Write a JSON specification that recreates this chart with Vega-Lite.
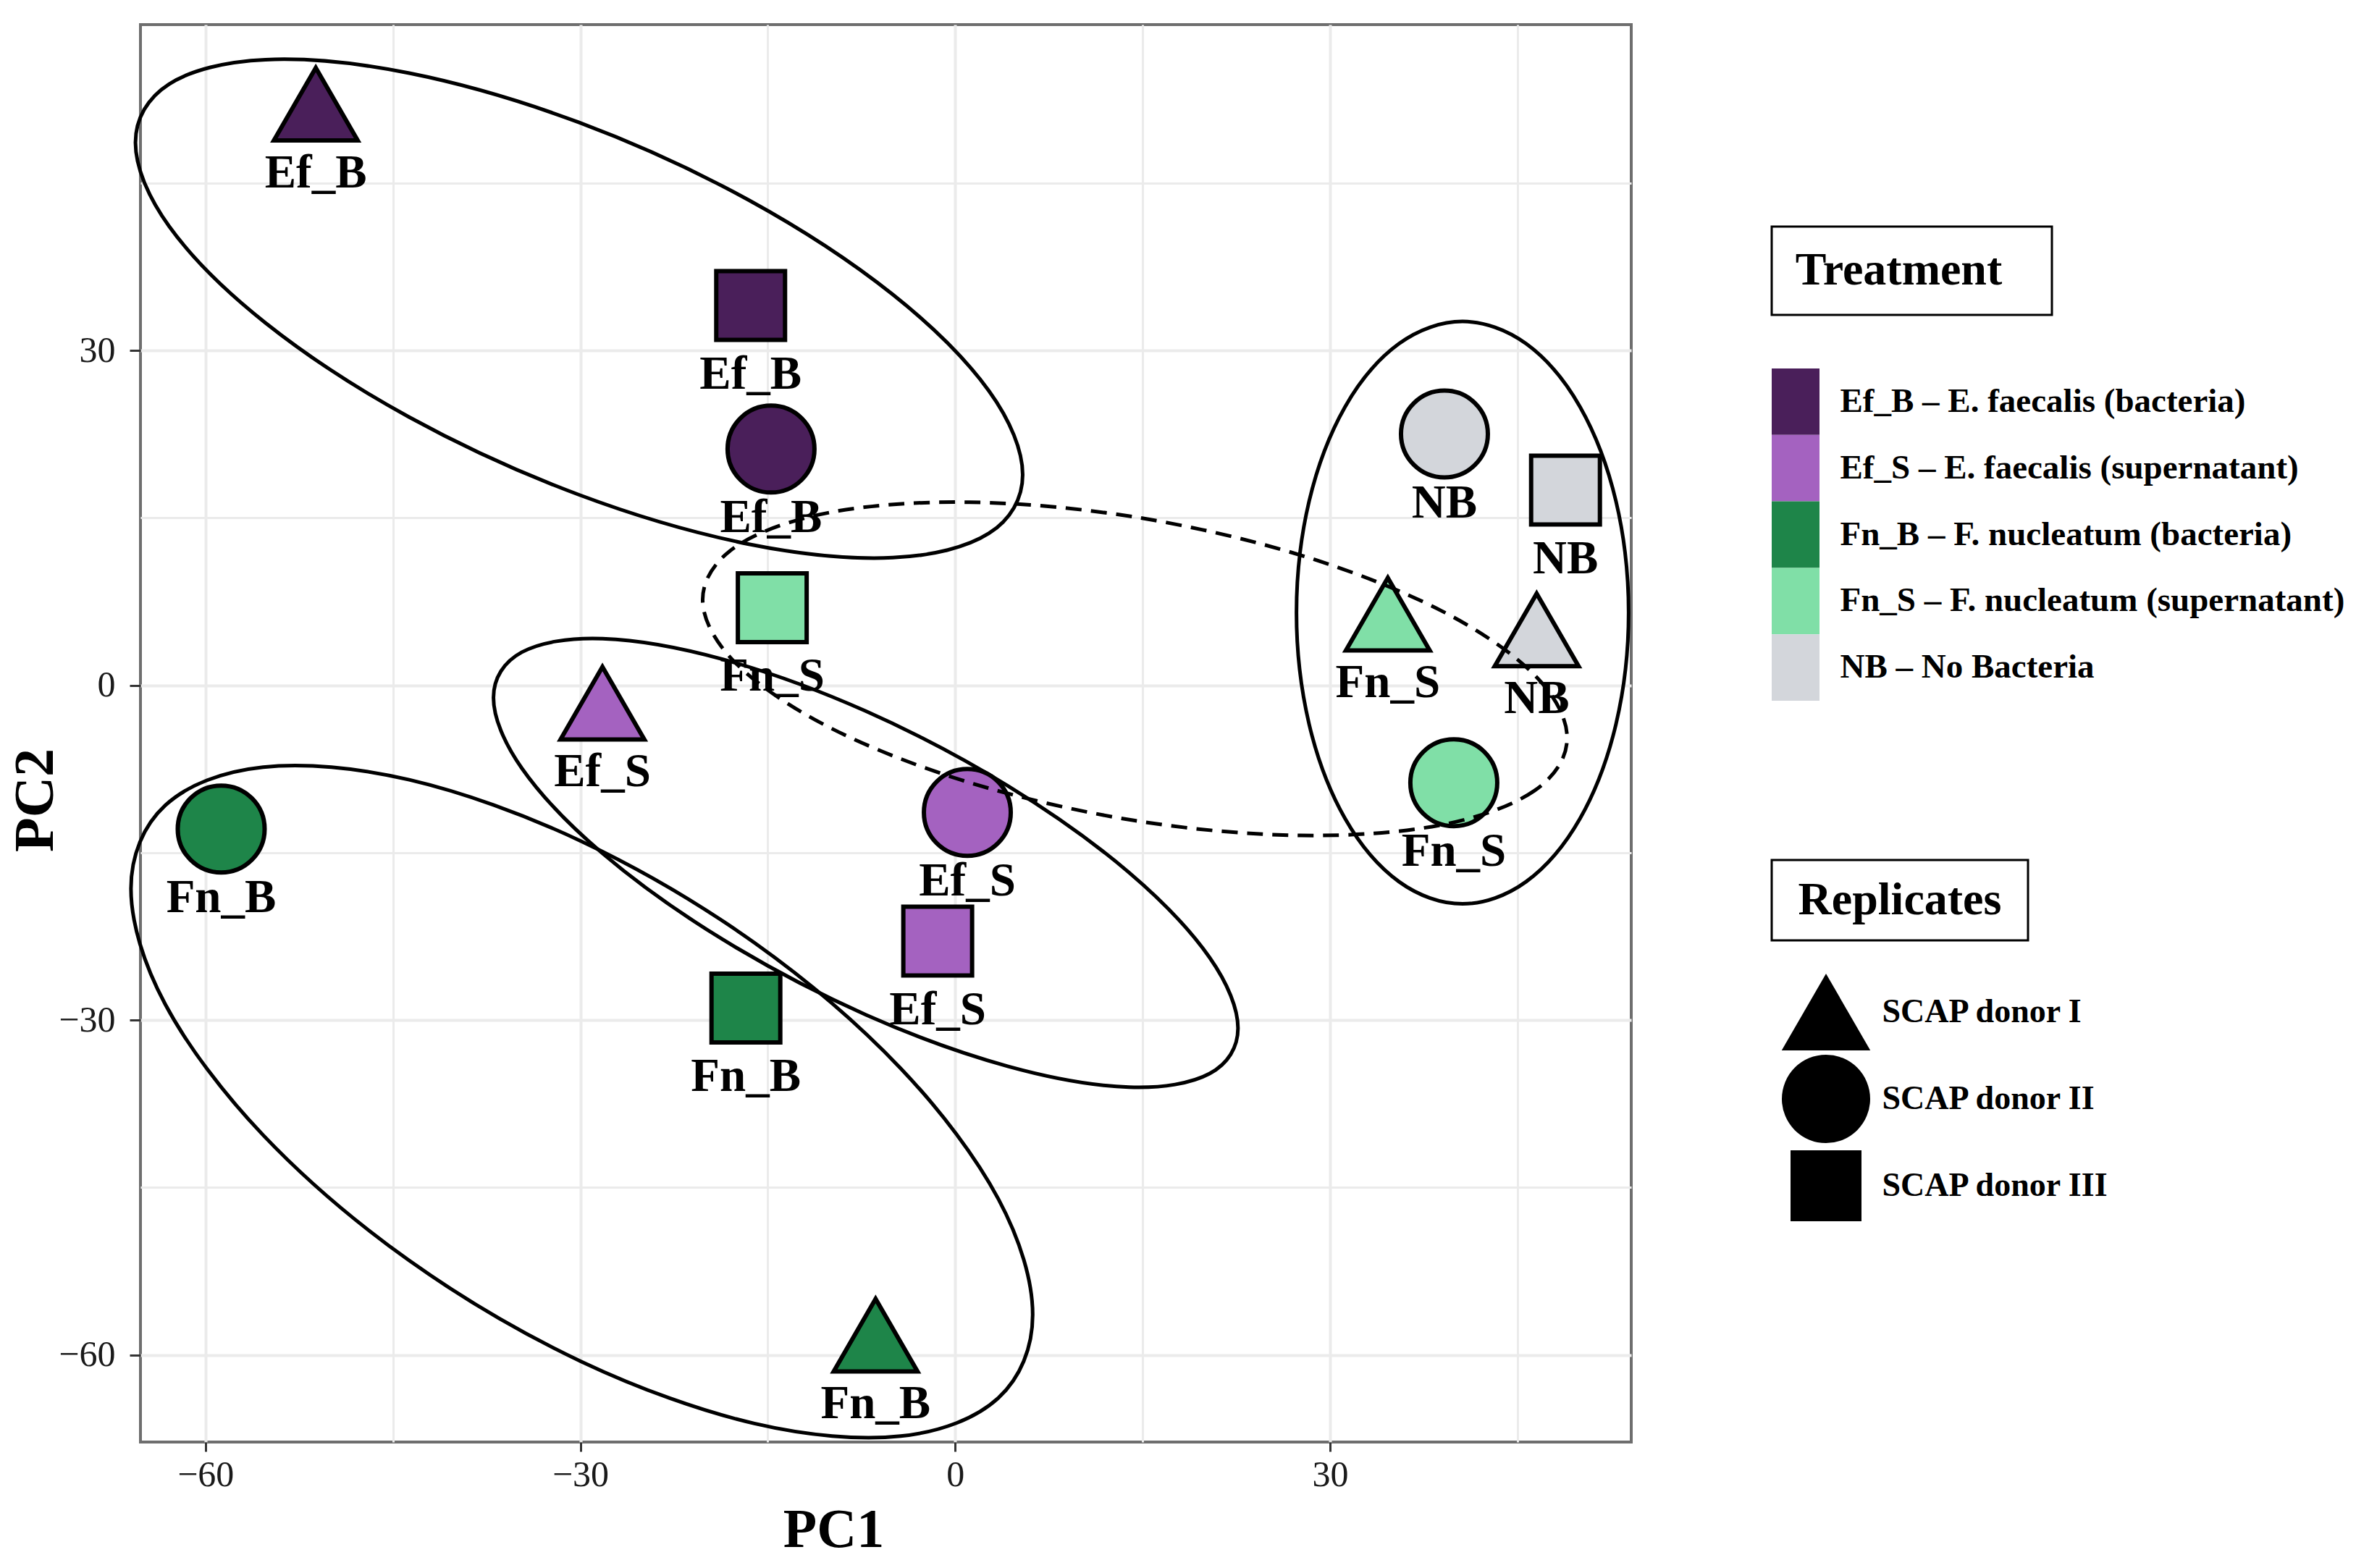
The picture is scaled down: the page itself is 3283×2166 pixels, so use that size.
{
  "$schema": "https://vega.github.io/schema/vega-lite/v6.json",
  "background": "white",
  "padding": {"left": 8, "top": 32, "right": 5, "bottom": 5},
  "config": {"font": "Liberation Serif", "view": {"stroke": null}},
  "datasets": {
    "points": [
      {"treatment": "Ef_B", "replicate": "SCAP donor I", "PC1": -51.17, "PC2": 52.08},
      {"treatment": "Ef_B", "replicate": "SCAP donor II", "PC1": -14.74, "PC2": 21.17},
      {"treatment": "Ef_B", "replicate": "SCAP donor III", "PC1": -16.37, "PC2": 34.04},
      {"treatment": "Ef_S", "replicate": "SCAP donor I", "PC1": -28.23, "PC2": -1.6},
      {"treatment": "Ef_S", "replicate": "SCAP donor II", "PC1": 0.97, "PC2": -11.39},
      {"treatment": "Ef_S", "replicate": "SCAP donor III", "PC1": -1.4, "PC2": -22.92},
      {"treatment": "Fn_B", "replicate": "SCAP donor I", "PC1": -6.37, "PC2": -58.23},
      {"treatment": "Fn_B", "replicate": "SCAP donor II", "PC1": -58.74, "PC2": -12.87},
      {"treatment": "Fn_B", "replicate": "SCAP donor III", "PC1": -16.75, "PC2": -28.91},
      {"treatment": "Fn_S", "replicate": "SCAP donor I", "PC1": 34.62, "PC2": 6.38},
      {"treatment": "Fn_S", "replicate": "SCAP donor II", "PC1": 39.9, "PC2": -8.73},
      {"treatment": "Fn_S", "replicate": "SCAP donor III", "PC1": -14.64, "PC2": 6.96},
      {"treatment": "NB", "replicate": "SCAP donor I", "PC1": 46.53, "PC2": 4.97},
      {"treatment": "NB", "replicate": "SCAP donor II", "PC1": 39.15, "PC2": 22.52},
      {"treatment": "NB", "replicate": "SCAP donor III", "PC1": 48.84, "PC2": 17.5}
    ],
    "ellipses": [
      {"group": "Ef_B", "i": 0, "PC1": 5.4, "PC2": 18.87},
      {"group": "Ef_B", "i": 1, "PC1": 2.7, "PC2": 13.62},
      {"group": "Ef_B", "i": 2, "PC1": -5.0, "PC2": 11.44},
      {"group": "Ef_B", "i": 3, "PC1": -16.51, "PC2": 12.65},
      {"group": "Ef_B", "i": 4, "PC1": -30.1, "PC2": 17.07},
      {"group": "Ef_B", "i": 5, "PC1": -43.69, "PC2": 24.03},
      {"group": "Ef_B", "i": 6, "PC1": -55.2, "PC2": 32.48},
      {"group": "Ef_B", "i": 7, "PC1": -62.9, "PC2": 41.12},
      {"group": "Ef_B", "i": 8, "PC1": -65.6, "PC2": 48.63},
      {"group": "Ef_B", "i": 9, "PC1": -62.9, "PC2": 53.88},
      {"group": "Ef_B", "i": 10, "PC1": -55.2, "PC2": 56.06},
      {"group": "Ef_B", "i": 11, "PC1": -43.69, "PC2": 54.85},
      {"group": "Ef_B", "i": 12, "PC1": -30.1, "PC2": 50.43},
      {"group": "Ef_B", "i": 13, "PC1": -16.51, "PC2": 43.47},
      {"group": "Ef_B", "i": 14, "PC1": -5.0, "PC2": 35.02},
      {"group": "Ef_B", "i": 15, "PC1": 2.7, "PC2": 26.38},
      {"group": "Ef_S", "i": 0, "PC1": 22.63, "PC2": -30.72},
      {"group": "Ef_S", "i": 1, "PC1": 20.36, "PC2": -34.79},
      {"group": "Ef_S", "i": 2, "PC1": 13.9, "PC2": -36.0},
      {"group": "Ef_S", "i": 3, "PC1": 4.24, "PC2": -34.14},
      {"group": "Ef_S", "i": 4, "PC1": -7.16, "PC2": -29.51},
      {"group": "Ef_S", "i": 5, "PC1": -18.56, "PC2": -22.8},
      {"group": "Ef_S", "i": 6, "PC1": -28.22, "PC2": -15.06},
      {"group": "Ef_S", "i": 7, "PC1": -34.68, "PC2": -7.43},
      {"group": "Ef_S", "i": 8, "PC1": -36.95, "PC2": -1.1},
      {"group": "Ef_S", "i": 9, "PC1": -34.68, "PC2": 2.97},
      {"group": "Ef_S", "i": 10, "PC1": -28.22, "PC2": 4.18},
      {"group": "Ef_S", "i": 11, "PC1": -18.56, "PC2": 2.32},
      {"group": "Ef_S", "i": 12, "PC1": -7.16, "PC2": -2.31},
      {"group": "Ef_S", "i": 13, "PC1": 4.24, "PC2": -9.02},
      {"group": "Ef_S", "i": 14, "PC1": 13.9, "PC2": -16.76},
      {"group": "Ef_S", "i": 15, "PC1": 20.36, "PC2": -24.39},
      {"group": "Fn_B", "i": 0, "PC1": 6.2, "PC2": -56.38},
      {"group": "Fn_B", "i": 1, "PC1": 3.45, "PC2": -63.85},
      {"group": "Fn_B", "i": 2, "PC1": -4.37, "PC2": -67.27},
      {"group": "Fn_B", "i": 3, "PC1": -16.07, "PC2": -66.14},
      {"group": "Fn_B", "i": 4, "PC1": -29.88, "PC2": -60.61},
      {"group": "Fn_B", "i": 5, "PC1": -43.69, "PC2": -51.54},
      {"group": "Fn_B", "i": 6, "PC1": -55.39, "PC2": -40.29},
      {"group": "Fn_B", "i": 7, "PC1": -63.21, "PC2": -28.59},
      {"group": "Fn_B", "i": 8, "PC1": -65.96, "PC2": -18.22},
      {"group": "Fn_B", "i": 9, "PC1": -63.21, "PC2": -10.75},
      {"group": "Fn_B", "i": 10, "PC1": -55.39, "PC2": -7.33},
      {"group": "Fn_B", "i": 11, "PC1": -43.69, "PC2": -8.46},
      {"group": "Fn_B", "i": 12, "PC1": -29.88, "PC2": -13.99},
      {"group": "Fn_B", "i": 13, "PC1": -16.07, "PC2": -23.06},
      {"group": "Fn_B", "i": 14, "PC1": -4.37, "PC2": -34.31},
      {"group": "Fn_B", "i": 15, "PC1": 3.45, "PC2": -46.01},
      {"group": "NB", "i": 0, "PC1": 53.89, "PC2": 6.51},
      {"group": "NB", "i": 1, "PC1": 52.88, "PC2": 16.49},
      {"group": "NB", "i": 2, "PC1": 50.0, "PC2": 24.96},
      {"group": "NB", "i": 3, "PC1": 45.69, "PC2": 30.61},
      {"group": "NB", "i": 4, "PC1": 40.6, "PC2": 32.6},
      {"group": "NB", "i": 5, "PC1": 35.51, "PC2": 30.61},
      {"group": "NB", "i": 6, "PC1": 31.2, "PC2": 24.96},
      {"group": "NB", "i": 7, "PC1": 28.32, "PC2": 16.49},
      {"group": "NB", "i": 8, "PC1": 27.31, "PC2": 6.51},
      {"group": "NB", "i": 9, "PC1": 28.32, "PC2": -3.47},
      {"group": "NB", "i": 10, "PC1": 31.2, "PC2": -11.94},
      {"group": "NB", "i": 11, "PC1": 35.51, "PC2": -17.59},
      {"group": "NB", "i": 12, "PC1": 40.6, "PC2": -19.58},
      {"group": "NB", "i": 13, "PC1": 45.69, "PC2": -17.59},
      {"group": "NB", "i": 14, "PC1": 50.0, "PC2": -11.94},
      {"group": "NB", "i": 15, "PC1": 52.88, "PC2": -3.47},
      {"group": "Fn_S", "i": 0, "PC1": 48.97, "PC2": -4.72},
      {"group": "Fn_S", "i": 1, "PC1": 46.34, "PC2": -9.45},
      {"group": "Fn_S", "i": 2, "PC1": 38.84, "PC2": -12.52},
      {"group": "Fn_S", "i": 3, "PC1": 27.62, "PC2": -13.45},
      {"group": "Fn_S", "i": 4, "PC1": 14.38, "PC2": -12.12},
      {"group": "Fn_S", "i": 5, "PC1": 1.14, "PC2": -8.71},
      {"group": "Fn_S", "i": 6, "PC1": -10.08, "PC2": -3.76},
      {"group": "Fn_S", "i": 7, "PC1": -17.58, "PC2": 2.01},
      {"group": "Fn_S", "i": 8, "PC1": -20.21, "PC2": 7.68},
      {"group": "Fn_S", "i": 9, "PC1": -17.58, "PC2": 12.41},
      {"group": "Fn_S", "i": 10, "PC1": -10.08, "PC2": 15.48},
      {"group": "Fn_S", "i": 11, "PC1": 1.14, "PC2": 16.41},
      {"group": "Fn_S", "i": 12, "PC1": 14.38, "PC2": 15.08},
      {"group": "Fn_S", "i": 13, "PC1": 27.62, "PC2": 11.67},
      {"group": "Fn_S", "i": 14, "PC1": 38.84, "PC2": 6.72},
      {"group": "Fn_S", "i": 15, "PC1": 46.34, "PC2": 0.95}
    ]
  },
  "spacing": 183,
  "hconcat": [
    {
      "width": 2059,
      "height": 1958,
      "view": {"stroke": "#6e6e6e", "strokeWidth": 4},
      "encoding": {
        "x": {
          "field": "PC1", "type": "quantitative",
          "scale": {"domain": [-65.2, 54.1], "nice": false, "zero": false},
          "axis": {
            "values": [-60, -45, -30, -15, 0, 15, 30, 45],
            "labelExpr": "datum.value % 30 === 0 ? datum.label : ''",
            "labelOverlap": false, "labelFlush": false,
            "grid": true, "gridColor": "#EBEBEB",
            "gridWidth": {"condition": {"test": "datum.value % 30 === 0", "value": 4}, "value": 3},
            "tickOpacity": {"condition": {"test": "datum.value % 30 === 0", "value": 1}, "value": 0},
            "tickColor": "#333333", "tickWidth": 3, "tickSize": 13,
            "domain": false,
            "labelFontSize": 50, "labelColor": "#1a1a1a", "labelPadding": 7,
            "title": "PC1", "titleFontSize": 76, "titleFontWeight": "bold", "titleColor": "black",
            "titlePadding": 14, "titleX": 957
          }
        },
        "y": {
          "field": "PC2", "type": "quantitative",
          "scale": {"domain": [-67.8, 59.2], "nice": false, "zero": false},
          "axis": {
            "values": [-60, -45, -30, -15, 0, 15, 30, 45],
            "labelExpr": "datum.value % 30 === 0 ? datum.label : ''",
            "labelOverlap": false, "labelFlush": false,
            "grid": true, "gridColor": "#EBEBEB",
            "gridWidth": {"condition": {"test": "datum.value % 30 === 0", "value": 4}, "value": 3},
            "tickOpacity": {"condition": {"test": "datum.value % 30 === 0", "value": 1}, "value": 0},
            "tickColor": "#333333", "tickWidth": 3, "tickSize": 15,
            "domain": false,
            "labelFontSize": 50, "labelColor": "#1a1a1a", "labelPadding": 20,
            "title": "PC2", "titleFontSize": 78, "titleFontWeight": "bold", "titleColor": "black",
            "titlePadding": -8, "titleY": 1071
          }
        }
      },
      "layer": [
        {
          "data": {"name": "ellipses"},
          "transform": [{"filter": "datum.group !== 'Fn_S'"}],
          "mark": {"type": "line", "interpolate": "cardinal-closed", "color": "black", "strokeWidth": 5},
          "encoding": {"detail": {"field": "group"}, "order": {"field": "i", "type": "quantitative"}}
        },
        {
          "data": {"name": "points"},
          "transform": [{"filter": "datum.replicate === 'SCAP donor I'"}],
          "mark": {"type": "point", "shape": "triangle-up", "size": 13400, "filled": true, "fillOpacity": 1, "opacity": 1, "stroke": "black", "strokeWidth": 6, "strokeOpacity": 1},
          "encoding": {"fill": {"field": "treatment", "type": "nominal", "scale": {"domain": ["Ef_B", "Ef_S", "Fn_B", "Fn_S", "NB"], "range": ["#4a1f5a", "#a462c0", "#1e8549", "#80dfa7", "#d3d6db"]}, "legend": null}}
        },
        {
          "data": {"name": "points"},
          "transform": [{"filter": "datum.replicate === 'SCAP donor II'"}],
          "mark": {"type": "point", "shape": "circle", "size": 14400, "filled": true, "fillOpacity": 1, "opacity": 1, "stroke": "black", "strokeWidth": 6, "strokeOpacity": 1},
          "encoding": {"fill": {"field": "treatment", "type": "nominal", "scale": {"domain": ["Ef_B", "Ef_S", "Fn_B", "Fn_S", "NB"], "range": ["#4a1f5a", "#a462c0", "#1e8549", "#80dfa7", "#d3d6db"]}, "legend": null}}
        },
        {
          "data": {"name": "points"},
          "transform": [{"filter": "datum.replicate === 'SCAP donor III'"}],
          "mark": {"type": "point", "shape": "square", "size": 9025, "filled": true, "fillOpacity": 1, "opacity": 1, "stroke": "black", "strokeWidth": 6, "strokeOpacity": 1},
          "encoding": {"fill": {"field": "treatment", "type": "nominal", "scale": {"domain": ["Ef_B", "Ef_S", "Fn_B", "Fn_S", "NB"], "range": ["#4a1f5a", "#a462c0", "#1e8549", "#80dfa7", "#d3d6db"]}, "legend": null}}
        },
        {
          "data": {"name": "points"},
          "mark": {"type": "text", "font": "Liberation Serif", "fontWeight": "bold", "fontSize": 65, "baseline": "alphabetic", "align": "center", "dy": 115, "color": "black"},
          "encoding": {"text": {"field": "treatment"}}
        },
        {
          "data": {"name": "ellipses"},
          "transform": [{"filter": "datum.group === 'Fn_S'"}],
          "mark": {"type": "line", "interpolate": "cardinal-closed", "color": "black", "strokeWidth": 5, "strokeDash": [22, 13]},
          "encoding": {"detail": {"field": "group"}, "order": {"field": "i", "type": "quantitative"}}
        }
      ]
    },
    {
      "spacing": 218,
      "vconcat": [
        {
          "width": 10, "height": 59,
          "data": {"values": [{"t": ""}]},
          "mark": {"type": "text"},
          "encoding": {"text": {"field": "t"}}
        },
        {
          "spacing": 72,
          "vconcat": [
            {
              "width": 387, "height": 122,
              "view": {"stroke": "black", "strokeWidth": 3},
              "data": {"values": [{"t": "Treatment"}]},
              "mark": {"type": "text", "font": "Liberation Serif", "fontSize": 64, "fontWeight": "bold", "baseline": "middle", "align": "center", "dx": -18, "color": "black"},
              "encoding": {"text": {"field": "t"}}
            },
            {
              "width": 66, "height": 459,
              "data": {"values": [
                {"treatment": "Ef_B", "label": "Ef_B – E. faecalis (bacteria)"},
                {"treatment": "Ef_S", "label": "Ef_S – E. faecalis (supernatant)"},
                {"treatment": "Fn_B", "label": "Fn_B – F. nucleatum (bacteria)"},
                {"treatment": "Fn_S", "label": "Fn_S – F. nucleatum (supernatant)"},
                {"treatment": "NB", "label": "NB – No Bacteria"}
              ]},
              "mark": {"type": "rect"},
              "encoding": {
                "y": {"field": "label", "type": "nominal", "sort": null, "scale": {"type": "band", "paddingInner": 0, "paddingOuter": 0},
                  "axis": {"orient": "right", "title": null, "domain": false, "ticks": false, "grid": false, "labelPadding": 28, "labelFontSize": 47, "labelFontWeight": "bold", "labelColor": "black", "labelLimit": 0}},
                "fill": {"field": "treatment", "type": "nominal", "scale": {"domain": ["Ef_B", "Ef_S", "Fn_B", "Fn_S", "NB"], "range": ["#4a1f5a", "#a462c0", "#1e8549", "#80dfa7", "#d3d6db"]}, "legend": null}
              }
            }
          ]
        },
        {
          "spacing": 37,
          "vconcat": [
            {
              "width": 354, "height": 111,
              "view": {"stroke": "black", "strokeWidth": 3},
              "data": {"values": [{"t": "Replicates"}]},
              "mark": {"type": "text", "font": "Liberation Serif", "fontSize": 64, "fontWeight": "bold", "baseline": "middle", "align": "center", "color": "black"},
              "encoding": {"text": {"field": "t"}}
            },
            {
              "width": 150, "height": 360,
              "data": {"values": [{"rep": "SCAP donor I"}, {"rep": "SCAP donor II"}, {"rep": "SCAP donor III"}]},
              "encoding": {
                "y": {"field": "rep", "type": "nominal", "sort": null, "scale": {"type": "band", "paddingInner": 0, "paddingOuter": 0},
                  "axis": {"orient": "right", "title": null, "domain": false, "ticks": false, "grid": false, "labelPadding": 2, "labelFontSize": 46, "labelFontWeight": "bold", "labelColor": "black", "labelLimit": 0}}
              },
              "layer": [
                {"transform": [{"filter": "datum.rep === 'SCAP donor I'"}], "mark": {"type": "point", "shape": "triangle-up", "size": 15000, "filled": true, "color": "black", "opacity": 1}},
                {"transform": [{"filter": "datum.rep === 'SCAP donor II'"}], "mark": {"type": "point", "shape": "circle", "size": 14884, "filled": true, "color": "black", "opacity": 1}},
                {"transform": [{"filter": "datum.rep === 'SCAP donor III'"}], "mark": {"type": "point", "shape": "square", "size": 9600, "filled": true, "color": "black", "opacity": 1}}
              ]
            }
          ]
        }
      ]
    }
  ]
}
